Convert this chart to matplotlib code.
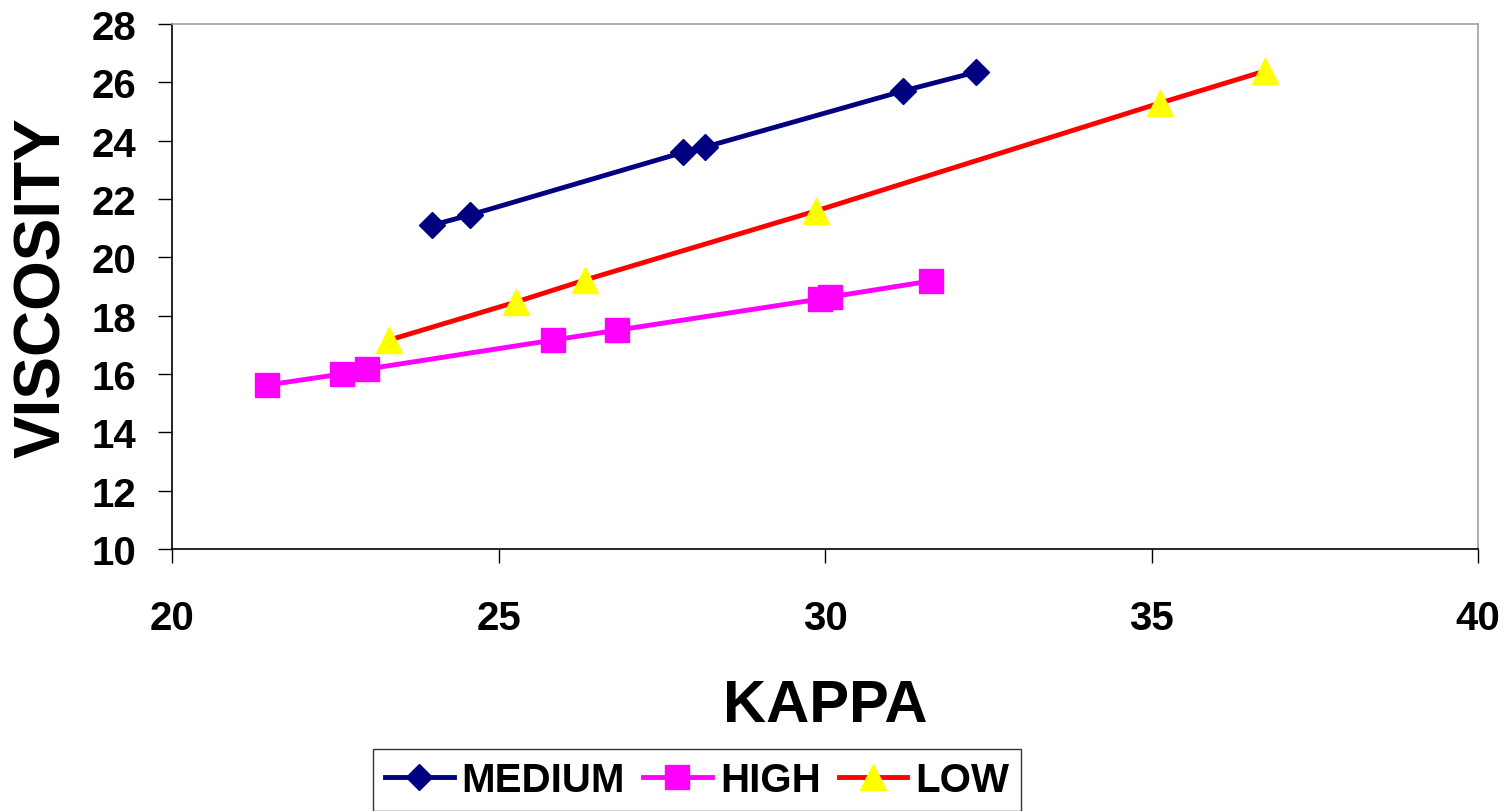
import matplotlib.pyplot as plt

# data
medium_kappa = [23.98, 24.56, 27.83, 28.16, 31.19, 32.31]
medium_visc = [21.1, 21.45, 23.6, 23.78, 25.7, 26.35]

high_kappa = [21.45, 22.6, 22.99, 25.83, 26.81, 29.92, 30.08, 31.62]
high_visc = [15.62, 16.0, 16.17, 17.16, 17.5, 18.57, 18.64, 19.19]

low_kappa = [23.32, 25.27, 26.32, 29.86, 35.13, 36.74]
low_visc = [17.16, 18.47, 19.22, 21.59, 25.29, 26.39]

plt.rcParams['font.family'] = ['Liberation Sans', 'DejaVu Sans']
plt.rcParams['font.weight'] = 'bold'

fig = plt.figure(figsize=(15.11, 8.12), dpi=100)
ax = fig.add_axes([172 / 1511, 1 - 550 / 812, (1478 - 172) / 1511, (550 - 25) / 812])

ax.plot(medium_kappa, medium_visc, color='#000080', lw=3.5, marker='D', ms=13,
        mfc='#000080', mec='#000080', label='MEDIUM')
ax.plot(high_kappa, high_visc, color='#FF00FF', lw=3.5, marker='s', ms=17,
        mfc='#FF00FF', mec='#FF00FF', label='HIGH')
ax.plot(low_kappa, low_visc, color='#FF0000', lw=3.5, marker='^', ms=18.5,
        mfc='#FFFF00', mec='#FFFF00', label='LOW')

ax.set_xlim(20, 40)
ax.set_ylim(10, 28)
ax.set_xticks([20, 25, 30, 35, 40])
ax.set_yticks(range(10, 29, 2))

for s in ['left', 'bottom']:
    ax.spines[s].set_color('black')
    ax.spines[s].set_linewidth(1.2)
for s in ['top', 'right']:
    ax.spines[s].set_color('#a0a0a0')
    ax.spines[s].set_linewidth(1.2)

ax.tick_params(axis='x', direction='out', length=10, width=1, labelsize=29, pad=26)
ax.tick_params(axis='y', direction='out', length=10, width=1, labelsize=29, pad=16)
for lab in ax.get_xticklabels() + ax.get_yticklabels():
    lab.set_fontweight('bold')

ax.set_xlabel('KAPPA', fontsize=43, fontweight='bold')
ax.xaxis.label.set_va('center')
ax.xaxis.set_label_coords(0.5, (550 - 707) / 525)
ax.set_ylabel('VISCOSITY', fontsize=46, fontweight='bold')
ax.yaxis.label.set_va('center')
ax.yaxis.set_label_coords((43 - 172) / 1306, 0.5)

leg = fig.legend(loc='upper left', bbox_to_anchor=(373 / 1511, 1 - 750 / 812),
                 ncol=3, frameon=True, fancybox=False, borderaxespad=0,
                 prop={'family': 'Liberation Sans', 'weight': 'bold', 'size': 29},
                 handlelength=1.7, handletextpad=0.2, columnspacing=0.45,
                 borderpad=0.3)
leg.get_frame().set_edgecolor('black')
leg.get_frame().set_linewidth(1)

fig.savefig('out.png', dpi=100)
